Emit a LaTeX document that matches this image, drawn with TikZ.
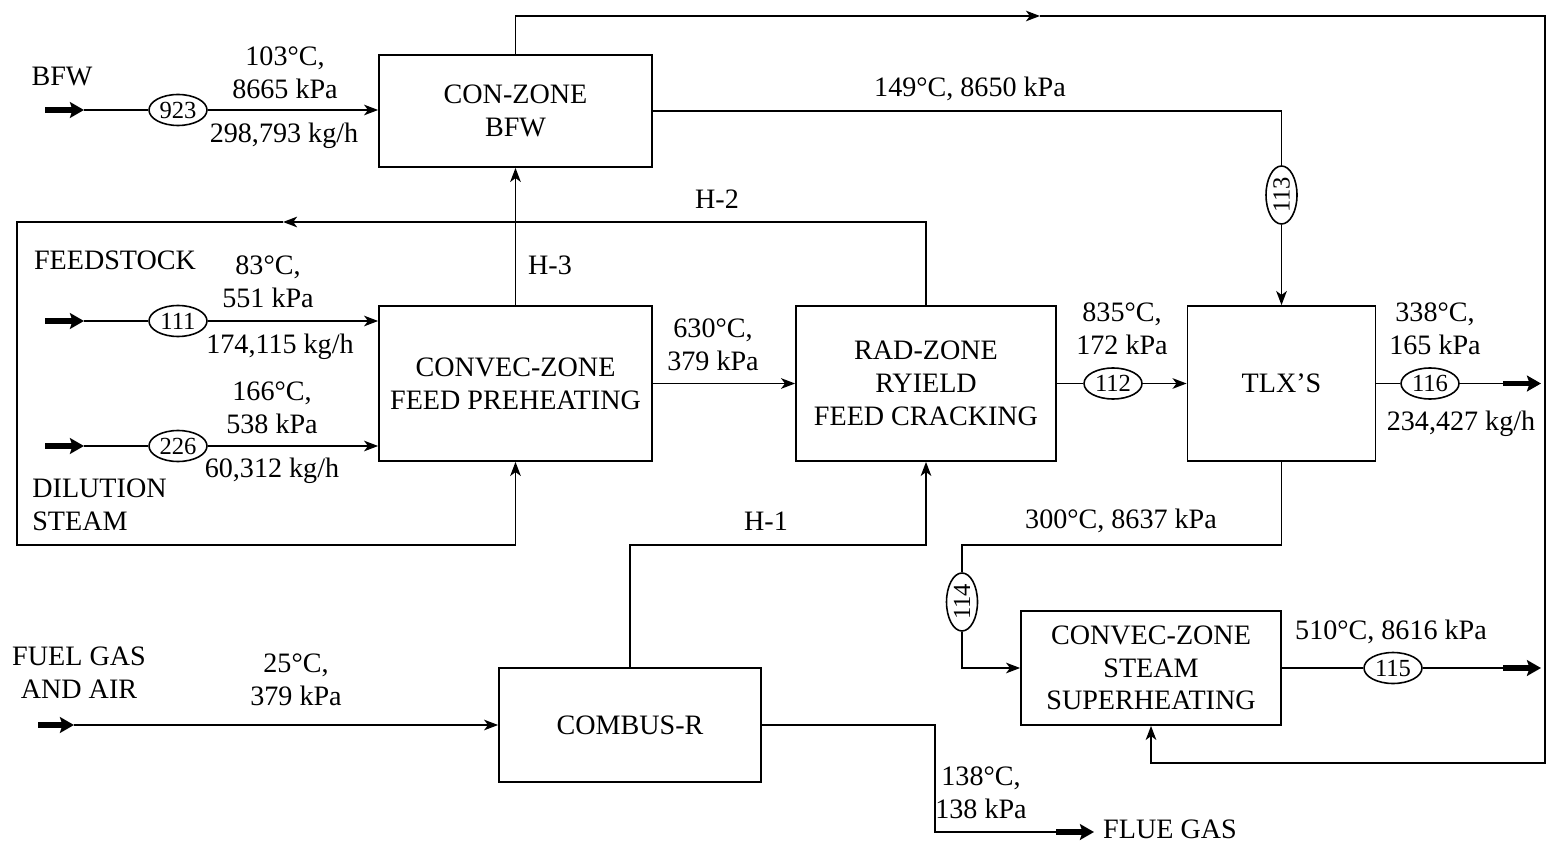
\documentclass[tikz,border=0pt]{standalone}
\usepackage{fontspec}
\setmainfont{Liberation Serif}
\usetikzlibrary{arrows.meta,shapes.geometric}
\begin{document}
\begin{tikzpicture}[x=0.02cm,y=-0.02cm,
 box/.style={draw,line width=1pt,align=center,font=\fontsize{16}{18.6}\selectfont,inner sep=0pt},
 lbl/.style={align=center,font=\fontsize{16}{18.6}\selectfont,inner sep=0pt},
 num/.style={draw,ellipse,line width=0.9pt,minimum width=1.16cm,minimum height=0.62cm,inner sep=0pt,font=\fontsize{14}{14}\selectfont},
 ln/.style={line width=1.1pt},
 flow/.style={line width=1.1pt,-{Stealth[length=8pt,width=6pt,inset=2.2pt]}},
 fat/.style={line width=3pt,-{Stealth[length=8pt,width=9pt,inset=1.5pt]}},
]
\useasboundingbox (0,0) rectangle (1547,844);

% boxes
\node[box,minimum width=5.46cm,minimum height=2.24cm] (conzone) at (515.5,111) {CON-ZONE\\BFW};
\node[box,minimum width=5.46cm,minimum height=3.1cm] (feed) at (515.5,383.5) {CONVEC-ZONE\\FEED PREHEATING};
\node[box,minimum width=5.2cm,minimum height=3.1cm] (rad) at (926,383.5) {RAD-ZONE\\RYIELD\\FEED CRACKING};
\node[box,minimum width=3.76cm,minimum height=3.1cm] (tlx) at (1281.5,383.5) {TLX'S};
\node[box,minimum width=5.2cm,minimum height=2.28cm] (steam) at (1151,668) {CONVEC-ZONE\\STEAM\\SUPERHEATING};
\node[box,minimum width=5.24cm,minimum height=2.28cm] (combus) at (630,725) {COMBUS-R};

% stream numbers
\node[num] (e923) at (178,110) {923};
\node[num] (e111) at (178,321) {111};
\node[num] (e226) at (178,446) {226};
\node[num,rotate=90] (e113) at (1281.5,195) {113};
\node[num] (e112) at (1113,383.5) {112};
\node[num] (e116) at (1430,383.5) {116};
\node[num,rotate=90] (e114) at (962,602) {114};
\node[num] (e115) at (1393,668) {115};

% labels
\node[lbl] (lbfw) at (62,77) {BFW};
\node[lbl] (l923a) at (285,73) {103°C,\\8665 kPa};
\node[lbl] (l923b) at (284,136) {298,793 kg/h};
\node[lbl] (l113) at (970,89) {149°C, 8650 kPa};
\node[lbl] (lh2) at (717,199) {H-2};
\node[lbl] (lfs) at (115,260) {FEEDSTOCK};
\node[lbl] (l111a) at (268,282) {83°C,\\551 kPa};
\node[lbl] (l111b) at (280,347) {174,115 kg/h};
\node[lbl] (lh3) at (550,265) {H-3};
\node[lbl] (l226a) at (272,408) {166°C,\\538 kPa};
\node[lbl] (l226b) at (272,471) {60,312 kg/h};
\node[lbl,align=left,anchor=west] (lds) at (32,505) {DILUTION\\STEAM};
\node[lbl] (l630) at (713,345) {630°C,\\379 kPa};
\node[lbl] (l112) at (1122,329) {835°C,\\172 kPa};
\node[lbl] (l116a) at (1435,329) {338°C,\\165 kPa};
\node[lbl] (l116b) at (1461,424) {234,427 kg/h};
\node[lbl] (l114) at (1121,521) {300°C, 8637 kPa};
\node[lbl] (lh1) at (766,521) {H-1};
\node[lbl] (l115) at (1391,632) {510°C, 8616 kPa};
\node[lbl] (lfg) at (79,673) {FUEL GAS\\AND AIR};
\node[lbl] (lfga) at (296,680) {25°C,\\379 kPa};
\node[lbl] (lflue) at (981,793) {138°C,\\138 kPa};
\node[lbl] (lfl) at (1170,829) {FLUE GAS};

% coordinates
\coordinate (bfw0) at (45,110); \coordinate (bfw1) at (84,110);
\coordinate (fs0) at (45,321); \coordinate (fs1) at (84,321);
\coordinate (ds0) at (45,446); \coordinate (ds1) at (84,446);
\coordinate (fg0) at (38,725); \coordinate (fg1) at (74,725);
\coordinate (tm) at (1040,16); \coordinate (t3) at (1545,763);
\coordinate (h2m) at (283,222); \coordinate (h2b) at (17,545);
\coordinate (h1) at (630,545);
\coordinate (c1) at (962,545);
\coordinate (o116a) at (1503,383.5); \coordinate (o116) at (1541,383.5);
\coordinate (o115a) at (1503,668); \coordinate (o115) at (1541,668);
\coordinate (fl1) at (935,832); \coordinate (fl2) at (1056,832); \coordinate (fl3) at (1094,832);

% BFW
\draw[fat] (bfw0) -- (bfw1);
\draw[ln] (bfw1) -- (e923);
\draw[flow] (e923) -- (conzone.west |- e923);
% top loop
\draw[flow] (conzone.north) |- (tm);
\draw[flow,line join=miter] (tm) -| (t3) -| (steam.south);
% 149 C line
\draw[ln] (conzone.east) -| (e113);
\draw[flow] (e113) -- (tlx);
% H-2
\draw[flow] (rad.north) |- (h2m);
\draw[flow] (h2m) -| (h2b) -| (feed.south);
% H-3
\draw[flow] (feed.north) -- (conzone.south);
% feedstock
\draw[fat] (fs0) -- (fs1);
\draw[ln] (fs1) -- (e111);
\draw[flow] (e111) -- (feed.west |- e111);
% dilution steam
\draw[fat] (ds0) -- (ds1);
\draw[ln] (ds1) -- (e226);
\draw[flow] (e226) -- (feed.west |- e226);
% feed to rad
\draw[flow] (feed.east) -- (rad.west);
% rad to tlx
\draw[ln] (rad.east) -- (e112);
\draw[flow] (e112) -- (tlx.west);
% tlx out
\draw[ln] (tlx.east) -- (e116);
\draw[ln] (e116) -- (o116a);
\draw[fat] (o116a) -- (o116);
% tlx to steam superheating
\draw[ln] (tlx.south) |- (c1) -- (e114);
\draw[flow] (e114) |- (steam.west);
% steam out
\draw[ln] (steam.east) -- (e115);
\draw[ln] (e115) -- (o115a);
\draw[fat] (o115a) -- (o115);
% H-1
\draw[flow] (combus.north) -- (h1) -| (rad.south);
% fuel gas
\draw[fat] (fg0) -- (fg1);
\draw[flow] (fg1) -- (combus.west);
% flue gas
\draw[ln] (combus.east) -| (fl1) -- (fl2);
\draw[fat] (fl2) -- (fl3);
\end{tikzpicture}
\end{document}
